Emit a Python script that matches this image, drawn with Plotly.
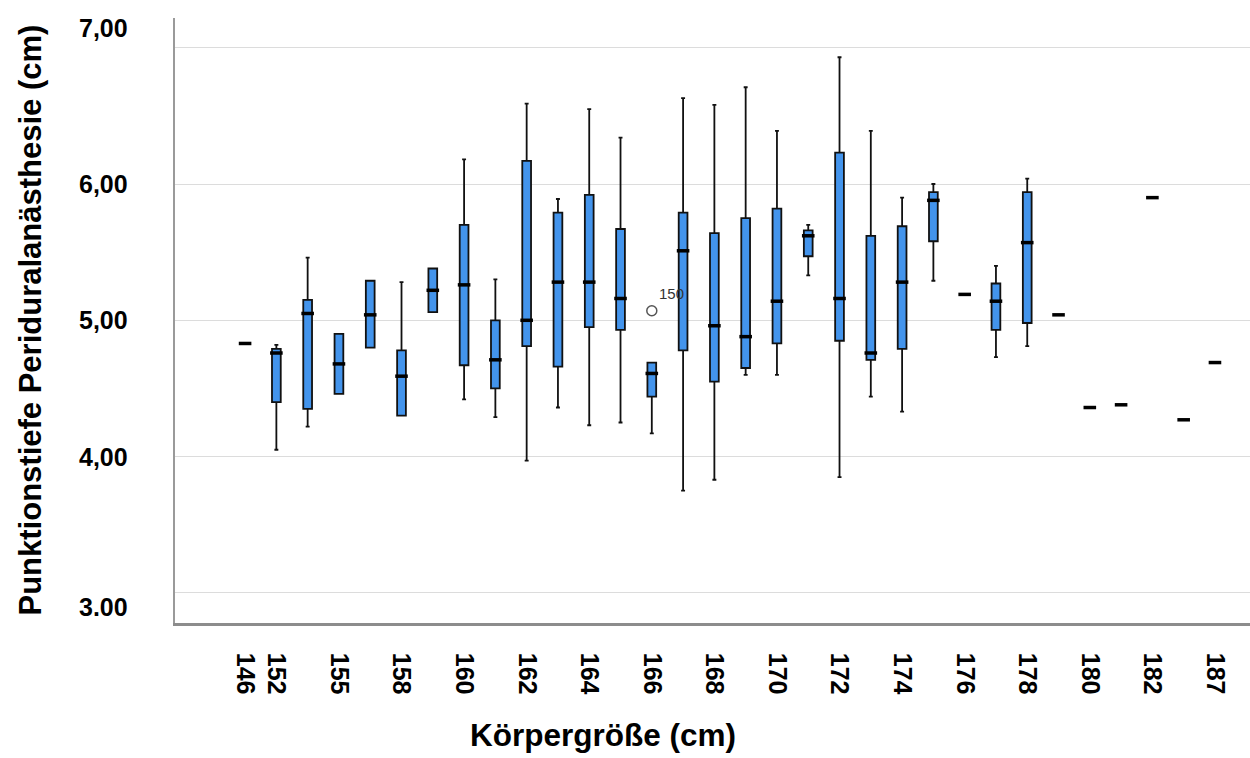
import plotly.graph_objects as go

# Körpergröße categories (cm) in display order
heights = ["146", "152", "154", "155", "156", "158", "159", "160", "161", "162",
           "163", "164", "165", "166", "167", "168", "169", "170", "171", "172",
           "173", "174", "175", "176", "177", "178", "179", "180", "181", "182",
           "185", "187"]

# Box statistics of Punktionstiefe (cm) per height
lower = [4.83, 4.05, 4.22, 4.46, 4.80, 4.30, 5.06, 4.42, 4.29, 3.97,
         4.36, 4.23, 4.25, 4.17, 3.75, 3.83, 4.60, 4.60, 5.33, 3.85,
         4.44, 4.33, 5.29, 5.19, 4.73, 4.81, 5.04, 4.36, 4.38, 5.90,
         4.27, 4.69]
q1 = [4.83, 4.40, 4.35, 4.46, 4.80, 4.30, 5.06, 4.67, 4.50, 4.81,
      4.66, 4.95, 4.93, 4.44, 4.78, 4.55, 4.65, 4.83, 5.47, 4.85,
      4.71, 4.79, 5.58, 5.19, 4.93, 4.98, 5.04, 4.36, 4.38, 5.90,
      4.27, 4.69]
median = [4.83, 4.76, 5.05, 4.68, 5.04, 4.59, 5.22, 5.26, 4.71, 5.00,
          5.28, 5.28, 5.16, 4.61, 5.51, 4.96, 4.88, 5.14, 5.62, 5.16,
          4.76, 5.28, 5.88, 5.19, 5.14, 5.57, 5.04, 4.36, 4.38, 5.90,
          4.27, 4.69]
q3 = [4.83, 4.79, 5.15, 4.90, 5.29, 4.78, 5.38, 5.70, 5.00, 6.17,
      5.79, 5.92, 5.67, 4.69, 5.79, 5.64, 5.75, 5.82, 5.66, 6.23,
      5.62, 5.69, 5.94, 5.19, 5.27, 5.94, 5.04, 4.36, 4.38, 5.90,
      4.27, 4.69]
upper = [4.83, 4.82, 5.46, 4.90, 5.29, 5.28, 5.38, 6.18, 5.30, 6.59,
         5.89, 6.55, 6.34, 4.69, 6.63, 6.58, 6.71, 6.39, 5.70, 6.93,
         6.39, 5.90, 6.00, 5.19, 5.40, 6.04, 5.04, 4.36, 4.38, 5.90,
         4.27, 4.69]

# Outlier (case number shown as label)
outlier_x = ["166"]
outlier_y = [5.07]
outlier_case = ["150"]

# Axis labelling
tick_heights = ["146", "152", "155", "158", "160", "162", "164", "166", "168",
                "170", "172", "174", "176", "178", "180", "182", "187"]
y_ticks = [3, 4, 5, 6, 7]
y_tick_text = ["3.00", "4,00", "5,00", "6,00", "7,00"]
y_tick_shift = [-14, 0, 0, 0, 20]

FONT = "Liberation Sans, Arial, Helvetica, sans-serif"
BOX_BLUE = "#4394ec"

fig = go.Figure()

fig.add_trace(go.Box(
    x=heights, q1=q1, median=median, q3=q3,
    lowerfence=lower, upperfence=upper,
    fillcolor=BOX_BLUE,
    line=dict(color="#111111", width=1.8),
    width=0.28, whiskerwidth=0.45,
    boxpoints=False, showlegend=False, hoverinfo="skip",
))

# thick median bars
fig.add_trace(go.Scatter(
    x=heights, y=median, mode="markers",
    marker=dict(symbol="line-ew", size=9, line=dict(color="#000000", width=3.5)),
    showlegend=False, hoverinfo="skip",
))

# outlier circle
fig.add_trace(go.Scatter(
    x=outlier_x, y=outlier_y, mode="markers",
    marker=dict(symbol="circle-open", size=10, color="#555555", line=dict(width=1.5)),
    showlegend=False, hoverinfo="skip",
))

annotations = []
for xv, yv, lab in zip(outlier_x, outlier_y, outlier_case):
    annotations.append(dict(
        x=heights.index(xv), y=yv, xref="x", yref="y", text=lab, showarrow=False,
        xanchor="left", yanchor="middle", xshift=5, yshift=17,
        font=dict(family=FONT, size=15, color="#333333"),
    ))

for v, t, s in zip(y_ticks, y_tick_text, y_tick_shift):
    annotations.append(dict(
        x=0, y=v, xref="paper", yref="y", text=t, showarrow=False,
        xanchor="right", yanchor="middle", xshift=-45, yshift=s,
        font=dict(family=FONT, size=25, color="#000000", weight=700),
    ))

annotations.append(dict(
    x=0, y=0.5, xref="paper", yref="paper", text="Punktionstiefe Periduralanästhesie (cm)",
    showarrow=False, textangle=-90, xanchor="center", yanchor="middle", xshift=-145,
    font=dict(family=FONT, size=31, color="#000000", weight=700),
))
annotations.append(dict(
    x=(603 - 175) / 1075, y=0, xref="paper", yref="paper", text="Körpergröße (cm)",
    showarrow=False, xanchor="center", yanchor="middle", yshift=-112,
    font=dict(family=FONT, size=31.5, color="#000000", weight=700),
))

fig.update_layout(
    width=1250, height=758,
    margin=dict(l=175, r=0, t=18, b=135),
    paper_bgcolor="white", plot_bgcolor="white",
    annotations=annotations,
    xaxis=dict(
        type="category", categoryorder="array", categoryarray=heights,
        range=[-2.24, 32.12],
        tickvals=tick_heights, ticktext=tick_heights, tickangle=90,
        tickfont=dict(family=FONT, size=25, color="#000000", weight=700),
        ticks="", ticklabelstandoff=22,
        showgrid=False, zeroline=False,
        showline=True, linecolor="#8c8c8c", linewidth=2.5,
    ),
    yaxis=dict(
        range=[2.779, 7.218], tickvals=y_ticks, showticklabels=False,
        showgrid=True, gridcolor="#dcdcdc", gridwidth=1.2,
        zeroline=False, ticks="",
        showline=True, linecolor="#9a9a9a", linewidth=2,
    ),
)

fig.write_html("out.html")
